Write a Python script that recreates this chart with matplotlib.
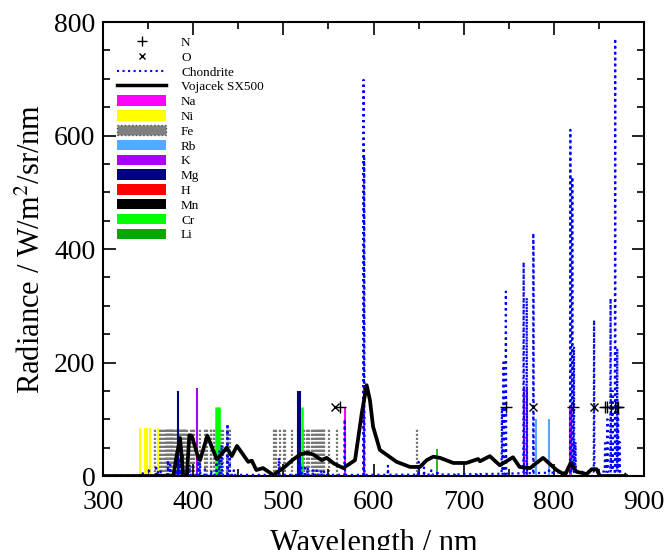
import numpy as np
import matplotlib
matplotlib.use("Agg")
import matplotlib.pyplot as plt
from matplotlib.lines import Line2D
from matplotlib.patches import Patch
from matplotlib.ticker import MultipleLocator

plt.rcParams["font.family"] = ["Liberation Serif", "DejaVu Serif"]
plt.rcParams["mathtext.fontset"] = "stix"

# --- element lines (wavelength nm, line height) ---
ni_wl = [341.5, 346.2, 349.3, 352.5, 361.0]
ni_h = [85, 85, 85, 85, 85]

fe_wl = [358.1, 363.1, 364.3, 367.0, 368.2, 369.5, 370.6, 371.3, 372.0, 373.5,
         373.7, 374.6, 374.9, 375.8, 376.4, 377.0, 377.6, 378.6, 379.5, 381.6,
         382.0, 382.6, 383.4, 384.0, 385.0, 385.9, 386.6, 387.3, 388.6, 389.4,
         390.0, 391.0, 392.3, 393.0, 397.6, 399.7, 400.9, 404.6,
         407.2, 413.2, 414.4, 415.7, 419.9, 420.2, 422.7, 423.4, 426.0, 427.2,
         430.8, 432.6, 437.2, 438.4, 440.5, 489.1, 491.9, 495.8, 500.6, 501.8,
         509.3, 516.7, 521.5, 522.7, 526.6, 527.0, 528.5, 532.1, 532.8, 535.1,
         536.2, 537.1, 538.1, 539.9, 540.6, 541.8, 543.0, 543.7, 544.7, 545.6,
         550.6, 559.9, 648.6]
fe_h = [85] * len(fe_wl)

na_wl = [568.8, 589.0, 589.6, 818.3, 819.5]
na_h = [121, 155, 155, 121, 121]

k_wl = [404.4, 766.5, 769.9]
k_h = [155, 155, 155]

mg_wl = [383.5, 516.7, 517.3, 518.4]
mg_h = [150, 150, 150, 150]

cr_wl = [425.4, 427.5, 429.0, 520.6]
cr_h = [121, 121, 121, 121]

rb_wl = [780.0, 794.8]
rb_h = [100, 100]

li_wl = [670.8]
li_h = [48]

# --- N and O markers ---
n_wl = [562.5, 746.8, 821.6, 856.8, 859.4, 862.9, 868.0, 870.3, 871.2]
o_wl = [557.7, 777.4, 844.6]
marker_y = 122

# --- Chondrite synthetic spectrum ---
chond_base_wl = [300, 330, 380, 450, 600, 700, 740, 800, 850, 875, 880, 885]
chond_base_val = [0, 0.5, 2, 2, 2, 3, 4, 6, 8, 8, 3, 0]
chond_peak_wl = [344, 351, 358.8, 361, 364, 372, 374.5, 381.6, 383.5, 385.4,
                 388.5, 393, 396, 405.4, 407.6, 413, 420, 426, 429, 431.6,
                 438, 440.5, 445, 495, 516.7, 518.4, 520, 524, 527, 533,
                 537, 542, 545, 568, 589.0, 589.6, 616, 650, 656, 664,
                 670.8, 691, 715, 742.4, 744.2, 746.8, 766.5, 769.9, 777.2, 777.5,
                 794.7, 818.3, 820.5, 822.3, 824, 844.6, 856.8, 859.4, 862.9, 865,
                 868.0, 870.3, 871.2, 872.9]
chond_peak_val = [5, 14, 19, 10, 8, 28, 20, 43, 30, 28,
                  40, 15, 20, 37, 23, 12, 10, 25, 45, 55,
                  92, 40, 10, 32, 23, 34, 15, 19, 15, 12,
                  10, 10, 8, 100, 698, 560, 18, 25, 15, 10,
                  10, 5, 5, 120, 200, 325, 377, 314, 428, 380,
                  10, 610, 527, 228, 60, 275, 58, 100, 313, 150,
                  771, 225, 120, 60]

# --- Vojacek SX500 spectrum ---
voj_wl = [300, 378, 381, 385.4, 389, 393, 395.7, 398.3, 402, 405.7,
          407.6, 415.7, 426, 427, 437.2, 442.7, 448.6, 461, 465, 470,
          477.5, 488.7, 500, 510, 518.5, 526, 533, 542.5, 548, 556,
          566.5, 579.5, 587, 592.4, 596, 599.5, 607, 625.6, 640.5, 651.5,
          659, 666.3, 673.7, 688.5, 703, 716, 718, 729, 740, 754.7,
          762, 773.6, 788, 803, 812.4, 818.6, 825, 836.4, 842, 847.5,
          851, 880]
voj_val = [0, 0, 30, 67, 0, 0, 72, 71, 52, 31,
           28, 71, 30, 30, 50, 35, 53, 25, 27, 10.6,
           14, 1.8, 14, 28, 38, 41, 38, 28, 32, 22,
           14, 28, 111, 160, 134, 87, 46, 25, 16, 16,
           28, 34, 32, 23, 23, 30, 26, 35, 19, 33,
           16, 14, 32, 10.6, 1.8, 23, 7.6, 3.5, 12, 12,
           0, 0]

colors = {
    "Na": "#ff00ff", "Ni": "#ffff00", "Fe": "#808080", "Rb": "#55aaff",
    "K": "#aa00ff", "Mg": "#000080", "H": "#ff0000", "Mn": "#000000",
    "Cr": "#00ff00", "Li": "#00aa00",
}


def chondrite_line():
    pts = list(zip(chond_base_wl, chond_base_val))
    for w, h in zip(chond_peak_wl, chond_peak_val):
        foot = np.interp(w, chond_base_wl, chond_base_val)
        pts += [(w - 0.35, foot), (w, h), (w + 0.35, foot)]
    pts.sort(key=lambda p: p[0])
    arr = np.array(pts)
    return arr[:, 0], arr[:, 1]


fig = plt.figure(figsize=(6.66, 5.5), dpi=100)
ax = fig.add_axes([0.1547, 0.1345, 0.8123, 0.8255])

ax.vlines(fe_wl, 0, fe_h, colors="#777777", linestyles=(0, (1, 0.8)), lw=1.6, zorder=1)
ax.vlines(ni_wl, 0, ni_h, colors=colors["Ni"], lw=1.5, zorder=2)
ax.vlines(na_wl, 0, na_h, colors=colors["Na"], lw=1.5, zorder=2)
ax.vlines(k_wl, 0, k_h, colors=colors["K"], lw=1.5, zorder=2)
ax.vlines(mg_wl, 0, mg_h, colors=colors["Mg"], lw=1.5, zorder=2)
ax.vlines(cr_wl, 0, cr_h, colors=colors["Cr"], lw=1.8, zorder=2)
ax.vlines(rb_wl, 0, rb_h, colors=colors["Rb"], lw=1.5, zorder=2)
ax.vlines(li_wl, 0, li_h, colors=colors["Li"], lw=1.2, zorder=2)

cx, cy = chondrite_line()
ax.plot(cx, cy, color="blue", ls=":", lw=1.6, zorder=3)
ax.plot(voj_wl, voj_val, color="black", lw=2.7, zorder=4)

ax.plot(n_wl, [marker_y] * len(n_wl), "+", color="black", ms=8, mew=1, zorder=5)
ax.plot(o_wl, [marker_y] * len(o_wl), "x", color="black", ms=6, mew=1, zorder=5)

ax.set_xlim(300, 900)
ax.set_ylim(0, 800)
ax.xaxis.set_major_locator(MultipleLocator(100))
ax.xaxis.set_minor_locator(MultipleLocator(50))
ax.yaxis.set_major_locator(MultipleLocator(200))
ax.yaxis.set_minor_locator(MultipleLocator(50))
ax.tick_params(which="both", direction="in", top=True, right=True, labelsize=20)
ax.tick_params(which="major", length=9, width=1.2)
ax.tick_params(which="minor", length=5, width=1.2)
ax.tick_params(axis="x", which="major", pad=10)
ax.tick_params(axis="y", which="major", pad=5.5)
for s in ax.spines.values():
    s.set_linewidth(1.5)

ax.set_xlabel("Wavelength / nm", fontsize=22, labelpad=10)
ax.set_ylabel("Radiance / W/m$^2$/sr/nm", fontsize=22, labelpad=5)

handles = [
    Line2D([], [], ls="none", marker="+", color="black", ms=7, mew=1),
    Line2D([], [], ls="none", marker="x", color="black", ms=5, mew=1),
    Line2D([], [], ls=":", color="blue", lw=1.5),
    Line2D([], [], color="black", lw=2.5),
]
labels = ["N", "O", "Chondrite", "Vojacek SX500"]
for el in ["Na", "Ni", "Fe", "Rb", "K", "Mg", "H", "Mn", "Cr", "Li"]:
    if el == "Fe":
        handles.append(Patch(facecolor=colors[el], edgecolor="#555555", ls=":", lw=1))
    else:
        handles.append(Patch(facecolor=colors[el], edgecolor="none"))
    labels.append(el)

ax.legend(handles, labels, loc="upper left", bbox_to_anchor=(0.026, 0.969),
          frameon=False, fontsize=9.5, borderpad=0, borderaxespad=0,
          handlelength=3.7, handletextpad=1.15, handleheight=0.85,
          labelspacing=0.15, numpoints=1)

fig.savefig("out.png", dpi=100)
